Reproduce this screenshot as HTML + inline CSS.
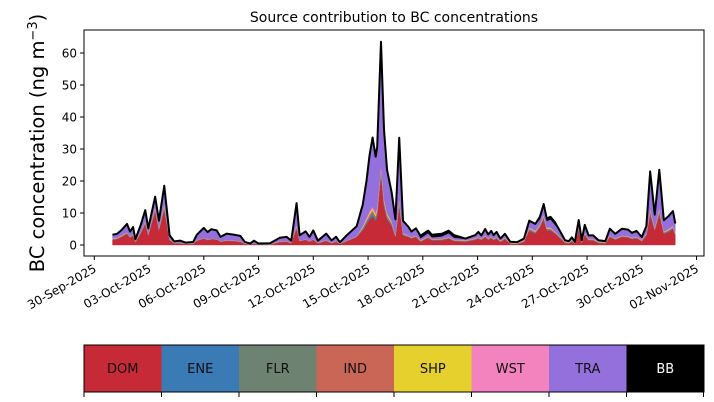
<!DOCTYPE html>
<html><head><meta charset="utf-8"><style>
html,body{margin:0;padding:0;background:#fff;}
svg{display:block;font-family:"DejaVu Sans","Liberation Sans",sans-serif;}
</style></head><body>
<svg id="chart" width="714" height="402" viewBox="0 0 714 402">
<text x="394" y="22" text-anchor="middle" font-size="14">Source contribution to BC concentrations</text>
<text transform="translate(44,143) rotate(-90)" text-anchor="middle" font-size="19.5">BC concentration (ng m<tspan baseline-shift="super" font-size="13">−3</tspan>)</text>
<g id="areas"></g>
<g id="yaxis"></g>
<g id="xaxis"></g>
<rect x="84" y="30" width="620" height="226" fill="none" stroke="#000" stroke-width="1"/>
<g id="legend"></g>
</svg>
<script>
// hours since 01-Oct-2025 00:00
const hours=[0,6,12,19,23,27,30,37,43,47,56,61,68,75,81,89,96,106,111,120,125,130,137,142,150,159,168,174,181,186,192,207,220,229,235,242,246,254,259,264,270,281,288,294,299,308,321,329,334,338,342,346,348,353,357,361,367,372,377,382,389,393,399,405,415,420,433,442,449,464,477,481,485,490,494,498,501,505,510,516,523,532,541,548,556,562,567,571,576,582,589,595,600,604,608,613,617,621,626,632,639,648,654,661,670,678,683,689,696,702,707,713,719,725,731,737,740];
const DOM=[1.6,1.8,2.5,3.5,2.2,3.0,0.8,3.6,6.5,3.0,10.5,4.5,11,1.5,0.5,0.5,0.3,0.3,1.3,2.0,1.5,1.8,1.7,1.0,1.3,1.2,1.0,0.3,0.1,0.4,0.1,0.1,0.9,1.0,0.5,5.0,1.2,1.6,1.0,1.6,0.5,1.3,0.5,1.0,0.3,1.2,2.5,4.5,6.5,8.0,9.0,7.5,9,22,12,8,6,2.5,12,3.0,2.5,2.0,2.5,1.0,2.2,1.4,1.5,2.0,1.2,1.0,1.6,2.0,1.5,2.5,1.6,2.2,1.5,2.0,0.9,1.8,0.3,0.2,0.9,4.5,3.5,5.5,8.0,4.5,4.5,3.5,2.0,0.6,0.4,1.1,0.3,5.0,0.6,3.2,1.4,1.4,0.6,0.4,2.5,1.6,2.5,2.3,1.8,2.1,1.1,3.0,9.5,4.5,9.5,3.5,4.0,5.0,3.0];
const ENE=[0.1,0.1,0.1,0.1,0.1,0.1,0.1,0.1,0.2,0.1,0.3,0.2,0.4,0.05,0.05,0.05,0.05,0.05,0.05,0.05,0.05,0.05,0.05,0.05,0.05,0.05,0.05,0.05,0.05,0.05,0.05,0.05,0.05,0.05,0.05,0.3,0.05,0.05,0.05,0.05,0.05,0.05,0.05,0.05,0.05,0.05,0.05,0.3,0.4,0.5,0.6,0.5,0.6,0.6,0.5,0.4,0.3,0.15,0.5,0.15,0.1,0.1,0.1,0.1,0.1,0.1,0.1,0.1,0.1,0.1,0.1,0.1,0.1,0.1,0.1,0.1,0.1,0.1,0.1,0.1,0.1,0.1,0.1,0.2,0.2,0.2,0.3,0.2,0.2,0.15,0.1,0.1,0.1,0.1,0.1,0.1,0.1,0.1,0.1,0.1,0.1,0.1,0.1,0.1,0.1,0.1,0.1,0.1,0.1,0.1,0.4,0.2,0.4,0.15,0.2,0.2,0.15];
const FLR=[0.1,0.1,0.1,0.1,0.1,0.1,0.1,0.1,0.2,0.1,0.3,0.2,0.4,0.05,0.05,0.05,0.05,0.05,0.05,0.05,0.05,0.05,0.05,0.05,0.05,0.05,0.05,0.05,0.05,0.05,0.05,0.05,0.05,0.05,0.05,0.3,0.05,0.05,0.05,0.05,0.05,0.05,0.05,0.05,0.05,0.05,0.05,0.3,0.4,0.5,0.6,0.5,0.6,0.6,0.5,0.4,0.3,0.15,0.5,0.15,0.1,0.1,0.1,0.1,0.1,0.1,0.1,0.1,0.1,0.1,0.1,0.1,0.1,0.1,0.1,0.1,0.1,0.1,0.1,0.1,0.1,0.1,0.1,0.2,0.2,0.2,0.3,0.2,0.2,0.15,0.1,0.1,0.1,0.1,0.1,0.1,0.1,0.1,0.1,0.1,0.1,0.1,0.1,0.1,0.1,0.1,0.1,0.1,0.1,0.1,0.4,0.2,0.4,0.15,0.2,0.2,0.15];
const IND=[0.1,0.1,0.1,0.1,0.1,0.1,0.1,0.1,0.2,0.1,0.3,0.2,0.4,0.05,0.05,0.05,0.05,0.05,0.05,0.05,0.05,0.05,0.05,0.05,0.05,0.05,0.05,0.05,0.05,0.05,0.05,0.05,0.05,0.05,0.05,0.3,0.05,0.05,0.05,0.05,0.05,0.05,0.05,0.05,0.05,0.05,0.05,0.3,0.4,0.5,0.6,0.5,0.6,0.6,0.5,0.4,0.3,0.15,0.5,0.15,0.1,0.1,0.1,0.1,0.1,0.1,0.1,0.1,0.1,0.1,0.1,0.1,0.1,0.1,0.1,0.1,0.1,0.1,0.1,0.1,0.1,0.1,0.1,0.2,0.2,0.2,0.3,0.2,0.2,0.15,0.1,0.1,0.1,0.1,0.1,0.1,0.1,0.1,0.1,0.1,0.1,0.1,0.1,0.1,0.1,0.1,0.1,0.1,0.1,0.1,0.4,0.2,0.4,0.15,0.2,0.2,0.15];
const SHP=[0.1,0.1,0.1,0.1,0.1,0.1,0.1,0.1,0.2,0.1,0.3,0.2,0.4,0.05,0.05,0.05,0.05,0.05,0.05,0.05,0.05,0.05,0.05,0.05,0.05,0.05,0.05,0.05,0.05,0.05,0.05,0.05,0.05,0.05,0.05,0.3,0.05,0.05,0.05,0.05,0.05,0.05,0.05,0.05,0.05,0.05,0.05,0.3,0.4,0.5,0.6,0.5,0.6,0.6,0.5,0.4,0.3,0.15,0.5,0.15,0.1,0.1,0.1,0.1,0.1,0.1,0.1,0.1,0.1,0.1,0.1,0.1,0.1,0.1,0.1,0.1,0.1,0.1,0.1,0.1,0.1,0.1,0.1,0.2,0.2,0.2,0.3,0.2,0.2,0.15,0.1,0.1,0.1,0.1,0.1,0.1,0.1,0.1,0.1,0.1,0.1,0.1,0.1,0.1,0.1,0.1,0.1,0.1,0.1,0.1,0.4,0.2,0.4,0.15,0.2,0.2,0.15];
const WST=[0.1,0.1,0.1,0.1,0.1,0.1,0.1,0.1,0.2,0.1,0.3,0.2,0.4,0.05,0.05,0.05,0.05,0.05,0.05,0.05,0.05,0.05,0.05,0.05,0.05,0.05,0.05,0.05,0.05,0.05,0.05,0.05,0.05,0.05,0.05,0.3,0.05,0.05,0.05,0.05,0.05,0.05,0.05,0.05,0.05,0.05,0.05,0.3,0.4,0.5,0.6,0.5,0.6,0.6,0.5,0.4,0.3,0.15,0.5,0.15,0.1,0.1,0.1,0.1,0.1,0.1,0.1,0.1,0.1,0.1,0.1,0.1,0.1,0.1,0.1,0.1,0.1,0.1,0.1,0.1,0.1,0.1,0.1,0.2,0.2,0.2,0.3,0.2,0.2,0.15,0.1,0.1,0.1,0.1,0.1,0.1,0.1,0.1,0.1,0.1,0.1,0.1,0.1,0.1,0.1,0.1,0.1,0.1,0.1,0.1,0.4,0.2,0.4,0.15,0.2,0.2,0.15];
const TRA=[1.0,1.1,1.6,2.5,1.4,2.0,0.4,2.0,3.3,1.6,3.0,2.0,5.4,1.2,0.3,0.5,0.1,0.3,1.6,3.0,2.2,2.8,2.5,1.2,1.9,1.7,1.5,0.3,0.0,0.6,0.0,0.1,1.0,1.2,0.5,6.5,1.5,2.3,1.2,2.6,0.5,1.9,0.6,1.2,0.2,1.5,3.0,6.5,11.5,17.5,21.5,17.5,18.5,37,20.5,12.5,8,4.5,18,3.5,2.5,1.5,2.0,0.6,1.0,0.5,0.7,1.2,0.6,0.4,0.9,1.5,0.9,1.9,1.1,1.6,1.0,1.5,0.5,1.1,0.1,0.1,0.5,2.0,2.0,1.5,2.5,2.0,2.5,2.0,1.5,0.3,0.2,0.7,0.1,2.2,0.3,2.5,1.0,1.0,0.3,0.2,2.0,1.3,2.0,1.9,1.4,1.7,0.8,2.3,11.0,3.8,11.5,3.3,3.8,4.4,2.8];
const BB=[0.1,0.1,0.1,0.1,0.1,0.1,0.1,0.1,0.1,0.1,0.1,0.1,0.1,0.1,0.1,0.1,0.1,0.1,0.1,0.1,0.1,0.1,0.1,0.1,0.1,0.1,0.1,0.1,0.1,0.1,0.1,0.1,0.1,0.1,0.1,0.1,0.1,0.1,0.1,0.1,0.1,0.1,0.1,0.1,0.1,0.1,0.1,0.1,0.1,0.1,0.1,0.1,0.1,1.5,1,1,1,0.3,1,0.3,0.2,0.2,0.2,0.8,0.8,0.8,0.8,0.8,0.8,0.1,0.1,0.1,0.1,0.1,0.1,0.1,0.1,0.1,0.1,0.1,0.1,0.1,0.1,0.1,0.1,0.8,0.8,0.8,0.8,0.8,0.1,0.1,0.1,0.1,0.1,0.1,0.1,0.1,0.1,0.1,0.1,0.1,0.1,0.1,0.1,0.1,0.1,0.1,0.1,0.1,0.5,0.2,0.5,0.2,0.2,0.2,0.2];
const seriesNames=["DOM","ENE","FLR","IND","SHP","WST","TRA","BB"];
const seriesColors=["#c62a37","#3a7ab5","#6e8272","#c96656","#e6d02e","#f283bf","#9370db","#000000"];
const yTicks=[0,10,20,30,40,50,60];
const xTickLabels=["30-Sep-2025","03-Oct-2025","06-Oct-2025","09-Oct-2025","12-Oct-2025","15-Oct-2025","18-Oct-2025","21-Oct-2025","24-Oct-2025","27-Oct-2025","30-Oct-2025","02-Nov-2025"];
const xTickHours=[-24,48,120,192,264,336,408,480,552,624,696,768];

const NS="http://www.w3.org/2000/svg";
const X0=84,X1=704,Y0=30,Y1=256;
const PX_PER_HOUR=18.25/24, ORIGIN_X=112.55;
const xs=h=>ORIGIN_X+h*PX_PER_HOUR;
const ys=v=>245-v*3.2;
function mk(tag,attrs,parent){const e=document.createElementNS(NS,tag);for(const k in attrs)e.setAttribute(k,attrs[k]);parent.appendChild(e);return e;}

const data=[DOM,ENE,FLR,IND,SHP,WST,TRA,BB];
const areas=document.getElementById('areas');
let base=hours.map(()=>0);
data.forEach((s,si)=>{
  const top=base.map((b,i)=>b+s[i]);
  let d="M"+hours.map((h,i)=>xs(h).toFixed(2)+","+ys(top[i]).toFixed(2)).join("L");
  for(let i=hours.length-1;i>=0;i--) d+="L"+xs(hours[i]).toFixed(2)+","+ys(base[i]).toFixed(2);
  d+="Z";
  const p=mk('path',{d:d,fill:seriesColors[si],stroke:seriesColors[si],'stroke-width':0.4},areas);
  
  
  base=top;
});
const totalLine=mk('path',{d:"M"+hours.map((h,i)=>xs(h).toFixed(2)+","+ys(base[i]).toFixed(2)).join("L"),fill:"none",stroke:"#000","stroke-width":2,"stroke-linejoin":"round"},areas);



const ya=document.getElementById('yaxis');
yTicks.forEach(v=>{
  const t=mk('line',{x1:X0-4,x2:X0,y1:ys(v),y2:ys(v),stroke:"#000"},ya);
  
  
  const l=mk('text',{x:X0-7,y:ys(v)+4.5,'text-anchor':'end','font-size':12},ya);
  
  
  l.textContent=v;
});
const xa=document.getElementById('xaxis');
xTickHours.forEach((h,i)=>{
  const x=xs(h);
  const t=mk('line',{x1:x,x2:x,y1:Y1,y2:Y1+4,stroke:"#000"},xa);
  
  
  const l=mk('text',{x:x+3,y:Y1+15,'text-anchor':'end','font-size':12,transform:`rotate(-30 ${x+3} ${Y1+15})`},xa);
  
  
  l.textContent=xTickLabels[i];
});
const lg=document.getElementById('legend');
const bw=(X1-X0)/seriesNames.length;
seriesNames.forEach((n,i)=>{
  const r=mk('rect',{x:X0+i*bw,y:345,width:bw+0.5,height:47,fill:seriesColors[i]},lg);
  
  
  const t=mk('text',{x:X0+i*bw+bw/2,y:373,'text-anchor':'middle','font-size':13,fill:n==="BB"?"#fff":"#111"},lg);
  
  
  t.textContent=n;
});
for(let i=0;i<=seriesNames.length;i++){
  const x=Math.min(X0+i*bw,X1-0.5);
  const tk=mk('line',{x1:x,x2:x,y1:392,y2:397,stroke:"#000"},lg);
  
  
}
const lf=mk('rect',{x:X0,y:345,width:X1-X0,height:47,fill:"none",stroke:"#000"},lg);


</script>
</body></html>
